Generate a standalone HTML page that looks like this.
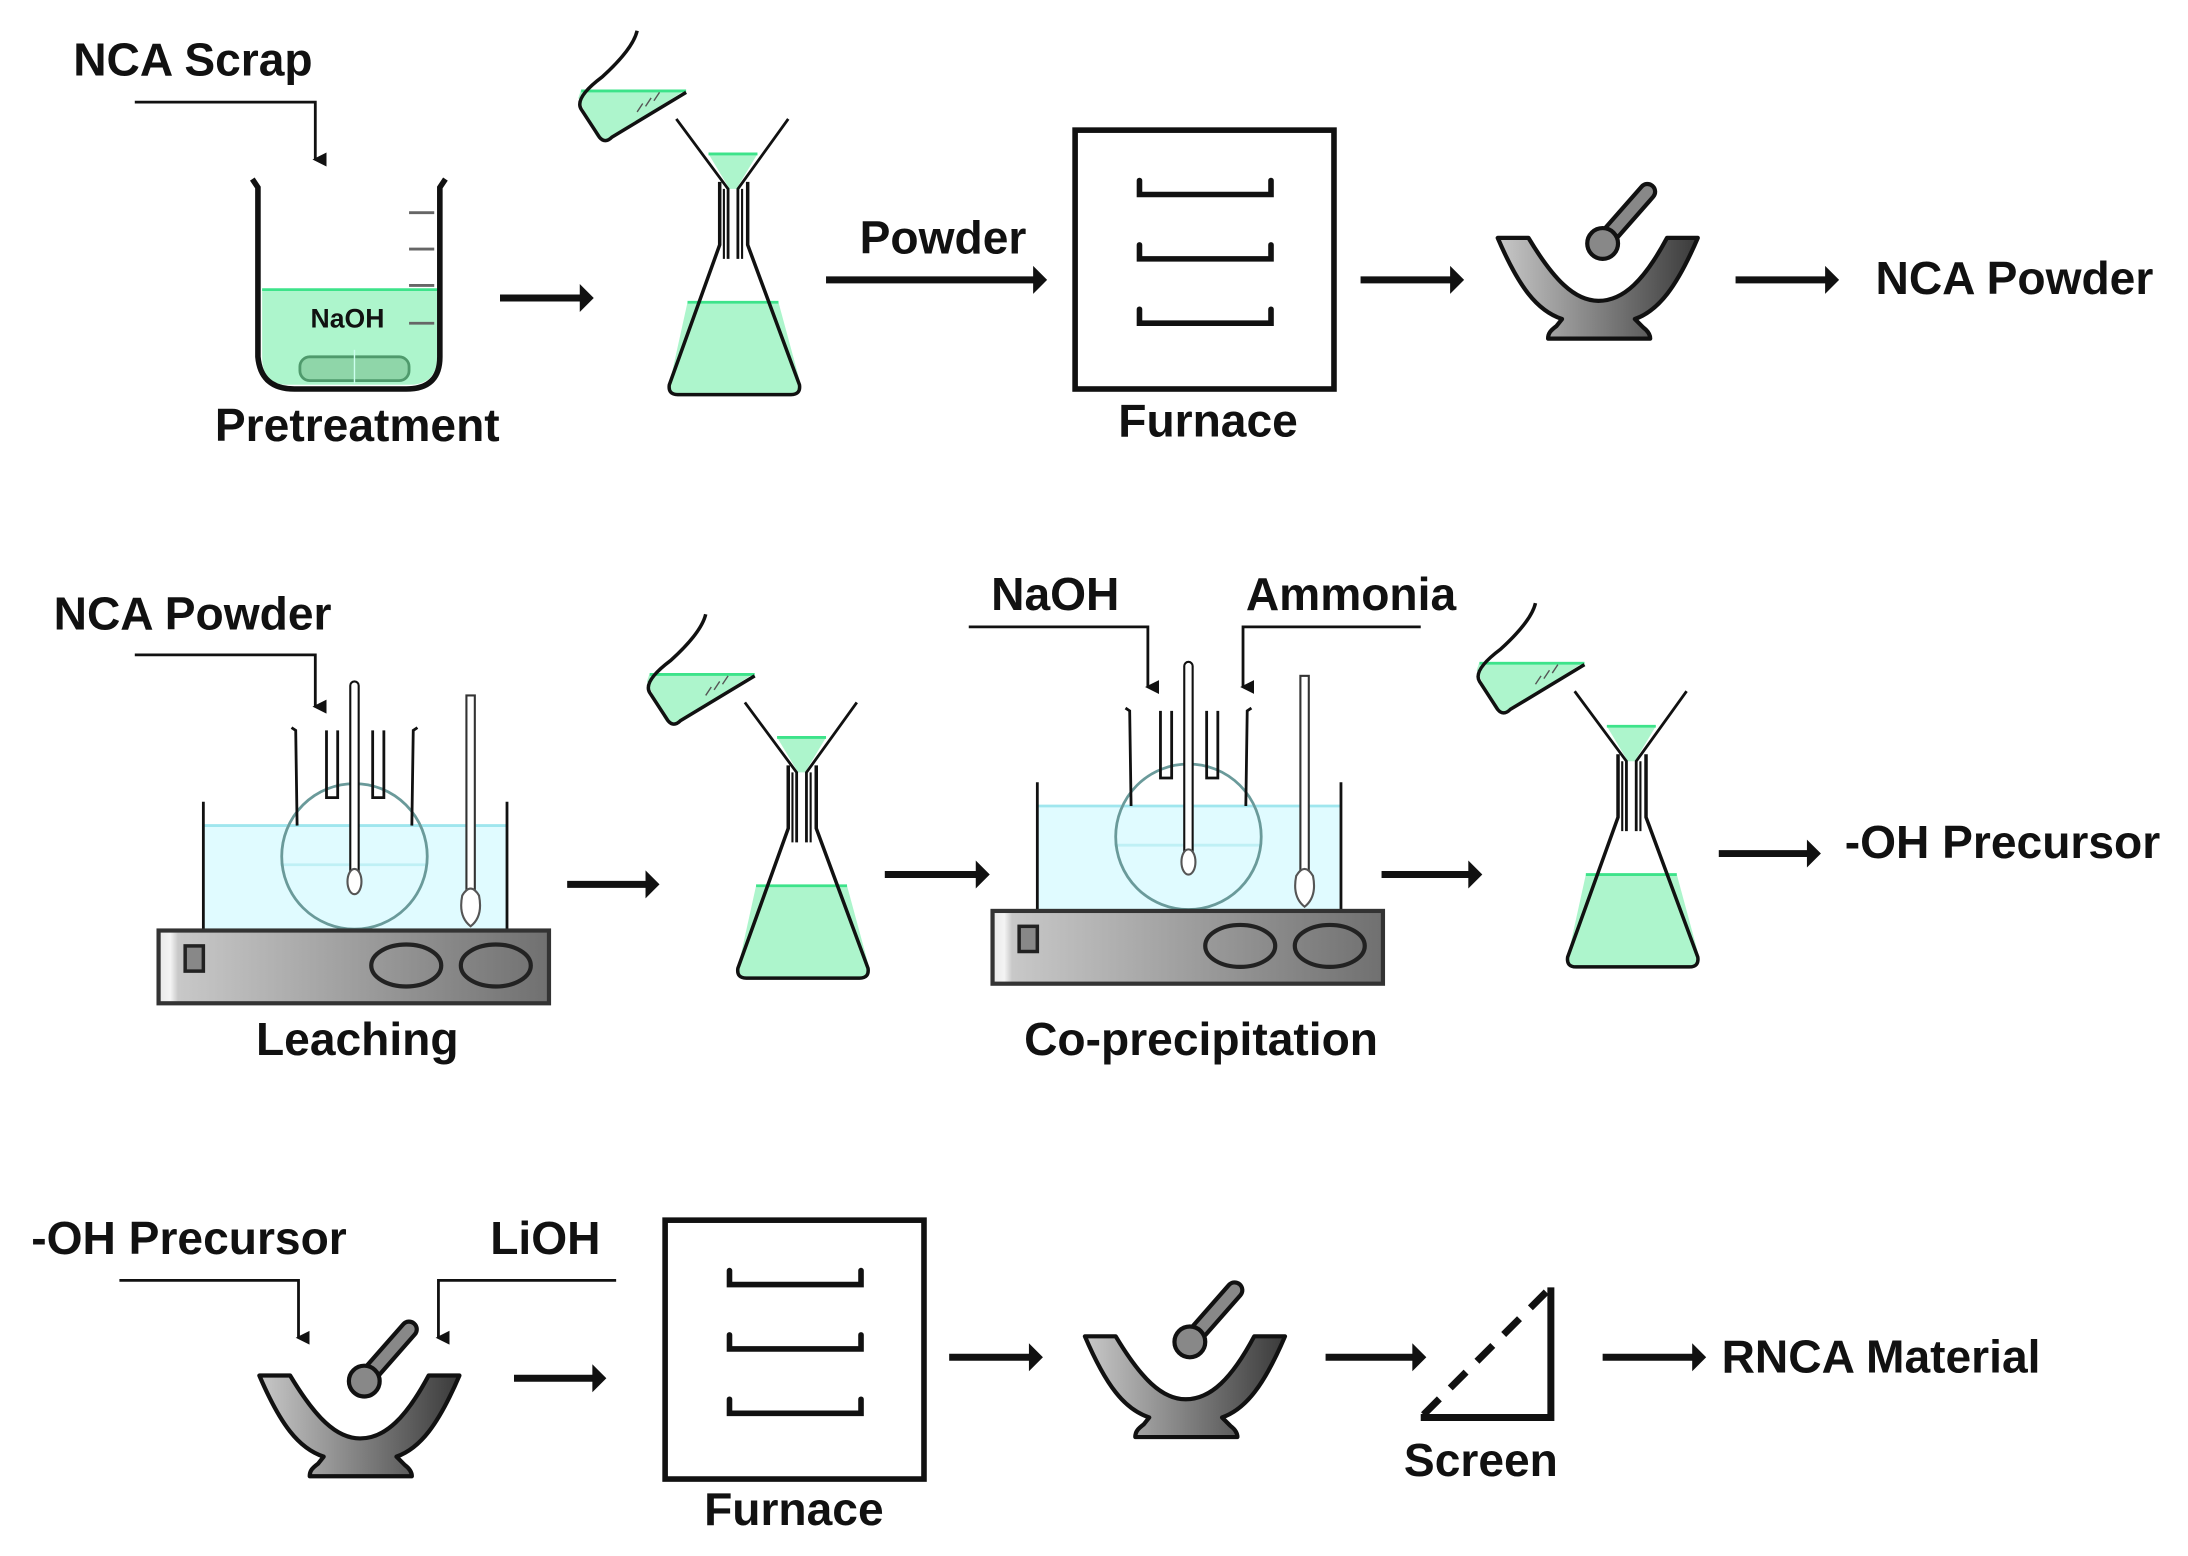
<!DOCTYPE html>
<html><head><meta charset="utf-8"><style>html,body{margin:0;padding:0;background:#fff}svg{display:block}text{font-family:"Liberation Sans",sans-serif;font-weight:bold;fill:#111}</style></head>
<body>
<svg width="2188" height="1556" viewBox="0 0 1563 1112" xmlns="http://www.w3.org/2000/svg">
<defs>
<linearGradient id="gm" x1="0" x2="1" y1="0" y2="0"><stop offset="0" stop-color="#c8c8c8"/><stop offset="1" stop-color="#3a3a3a"/></linearGradient>
<linearGradient id="gp" x1="0" x2="1" y1="0" y2="0"><stop offset="0" stop-color="#e8e8e8"/><stop offset="0.03" stop-color="#f4f4f4"/><stop offset="0.05" stop-color="#c8c8c8"/><stop offset="1" stop-color="#707070"/></linearGradient>
<marker id="ah" markerWidth="10" markerHeight="10" refX="5" refY="8" orient="auto" markerUnits="userSpaceOnUse"><path d="M0,0 L10,0 L5,10 Z" fill="#111"/></marker>
<g id="mortar">
<path d="M0,0 L22,0 C40,30 55,45 72,45 C90,45 105,30 121,0 L143,0 C128,35 115,52 98,58 L104,64 C108,67 109,70 109,72 L36,72 C36,68 38,66 42,63 L46,58 C28,52 15,35 0,0 Z" fill="url(#gm)" stroke="#111" stroke-width="3" stroke-linejoin="round"/>
<line x1="78" y1="0" x2="107" y2="-33" stroke="#111" stroke-width="14" stroke-linecap="round"/>
<line x1="78" y1="0" x2="107" y2="-33" stroke="#888" stroke-width="8" stroke-linecap="round"/>
<circle cx="75" cy="4" r="11" fill="#888" stroke="#111" stroke-width="3"/>
</g>
<g id="furnace">
<rect x="0" y="0" width="185" height="185" fill="#fff" stroke="#111" stroke-width="4"/>
<path d="M46,36 V46 H140 V36 M46,82 V92 H140 V82 M46,128 V138 H140 V128" fill="none" stroke="#111" stroke-width="4" stroke-linecap="round"/>
</g>
<g id="filt">
<path d="M415,64 L490,64 L434,100 Q428,102 425,96 L413,70 Z" fill="#adf5cc"/>
<line x1="415" y1="65" x2="490" y2="65" stroke="#3de38a" stroke-width="2"/>
<path d="M455,22 Q452,35 430,55 Q410,70 415,78 L428,98 Q432,103 437,98 L490,66" fill="none" stroke="#111" stroke-width="2.5"/>
<path d="M455,80 l4,-6 M461,76 l4,-6 M467,72 l4,-6" stroke="#555" stroke-width="1"/>
<path d="M506,110 L541,110 L526,135 L521,135 Z" fill="#adf5cc"/>
<line x1="506" y1="110" x2="541" y2="110" stroke="#3de38a" stroke-width="2"/>
<path d="M483,85 L520,135 L520,185 M563,85 L527,135 L527,185" fill="none" stroke="#111" stroke-width="2"/>
<path d="M491,216 L556,216 L572,275 Q572,282 565,282 L484,282 Q477,282 478,275 Z" fill="#adf5cc"/>
<line x1="491" y1="216" x2="556" y2="216" stroke="#3de38a" stroke-width="2"/>
<path d="M514,130 L514,175 L478,275 Q477,282 484,282 L565,282 Q572,282 571,275 L534,175 L534,130" fill="none" stroke="#111" stroke-width="2.5"/>
<path d="M517,135 V185 M530,135 V185" stroke="#111" stroke-width="1.5"/>
</g>
<g id="leach">
<rect x="145" y="590" width="217" height="75" fill="#e0fbff"/>
<line x1="145" y1="590" x2="362" y2="590" stroke="#9fe6ee" stroke-width="2"/>
<line x1="200" y1="618" x2="305" y2="618" stroke="#bff0f5" stroke-width="2"/>
<path d="M145,573 V665 M362,573 V665" stroke="#111" stroke-width="2"/>
<circle cx="253" cy="612" r="52" fill="none" stroke="#6a9a9a" stroke-width="2"/>
<path d="M208,520 L211,522 L212,590 M298,520 L295,522 L294,590" fill="none" stroke="#111" stroke-width="2"/>
<path d="M233,522 V570 H241 V522 M266,522 V570 H274 V522" fill="none" stroke="#111" stroke-width="2"/>
<rect x="250" y="487" width="6" height="140" rx="3" fill="#fff" stroke="#111" stroke-width="1.5"/>
<ellipse cx="253" cy="630" rx="5" ry="9" fill="#fff" stroke="#555" stroke-width="1.5"/>
<rect x="333" y="497" width="6" height="140" fill="#fff" stroke="#333" stroke-width="1.5"/>
<path d="M330,640 Q336,630 342,640 Q345,655 336,662 Q327,655 330,640 Z" fill="#fff" stroke="#555" stroke-width="1.5"/>
<rect x="113" y="665" width="279" height="52" fill="url(#gp)" stroke="#333" stroke-width="3"/>
<rect x="132" y="676" width="13" height="18" fill="#888" stroke="#222" stroke-width="2.5"/>
<ellipse cx="290" cy="690" rx="25" ry="15" fill="none" stroke="#222" stroke-width="3"/>
<ellipse cx="354" cy="690" rx="25" ry="15" fill="none" stroke="#222" stroke-width="3"/>
</g>
</defs>
<rect width="1563" height="1112" fill="#fff"/>
<g fill="none" stroke="#111" stroke-width="5">
<path d="M357,213 H418 M590,200 H743 M972,200 H1041 M1240,200 H1309 M405,632 H466 M632,625 H702 M987,625 H1054 M1228,610 H1296 M367,985 H428 M678,970 H740 M947,970 H1014 M1145,970 H1214"/>
</g>
<g fill="#111">
<path d="M414,203 L424,213 L414,223Z M738,190 L748,200 L738,210Z M1036,190 L1046,200 L1036,210Z M1304,190 L1314,200 L1304,210Z M461,622 L471,632 L461,642Z M697,615 L707,625 L697,635Z M1049,615 L1059,625 L1049,635Z M1291,600 L1301,610 L1291,620Z M423,975 L433,985 L423,995Z M735,960 L745,970 L735,980Z M1009,960 L1019,970 L1009,980Z M1209,960 L1219,970 L1209,980Z"/>
</g>
<g fill="none" stroke="#111" stroke-width="2" marker-end="url(#ah)">
<path d="M96,73 H225 V114"/>
<path d="M96,468 H225 V505"/>
<path d="M692,448 H820 V491"/>
<path d="M1015,448 H888 V491"/>
<path d="M85,915 H213 V956"/>
<path d="M440,915 H313 V956"/>
</g>
<path d="M187,207 H312 V255 Q312,275 292,275 H205 Q187,275 187,255 Z" fill="#adf5cc"/>
<line x1="187" y1="207" x2="312" y2="207" stroke="#3de38a" stroke-width="2"/>
<rect x="214" y="255" width="78" height="17" rx="7" fill="#8fd6a9" stroke="#4f9a6c" stroke-width="2"/>
<line x1="253" y1="250" x2="253" y2="274" stroke="#cfe" stroke-width="1"/>
<path d="M292,152 H310 M292,178 H310 M292,204 H310 M292,231 H310" stroke="#666" stroke-width="2"/>
<path d="M180,128 L184,134 L184,255 Q186,278 210,278 H290 Q314,278 314,255 L314,134 L318,128" fill="none" stroke="#111" stroke-width="4"/>
<text x="248" y="234" font-size="19" text-anchor="middle" font-weight="normal">NaOH</text>
<use href="#filt"/>
<use href="#filt" transform="translate(49,417)"/>
<use href="#filt" transform="translate(642,409)"/>
<use href="#furnace" transform="translate(768,93)"/>
<use href="#furnace" transform="translate(475,872)"/>
<use href="#mortar" transform="translate(1070,170)"/>
<use href="#mortar" transform="translate(185,983)"/>
<use href="#mortar" transform="translate(775,955)"/>
<use href="#leach"/>
<use href="#leach" transform="translate(596,-14)"/>
<path d="M1108,920 V1013 H1015" fill="none" stroke="#111" stroke-width="5"/>
<line x1="1017" y1="1011" x2="1106" y2="922" stroke="#111" stroke-width="5" stroke-dasharray="16,11"/>
<g font-size="33">
<text x="52" y="54">NCA Scrap</text>
<text x="255" y="315" text-anchor="middle">Pretreatment</text>
<text x="614" y="181">Powder</text>
<text x="863" y="312" text-anchor="middle">Furnace</text>
<text x="1340" y="210">NCA Powder</text>
<text x="38" y="450">NCA Powder</text>
<text x="708" y="436">NaOH</text>
<text x="890" y="436">Ammonia</text>
<text x="255" y="754" text-anchor="middle">Leaching</text>
<text x="858" y="754" text-anchor="middle">Co-precipitation</text>
<text x="1318" y="613">-OH Precursor</text>
<text x="22" y="896">-OH Precursor</text>
<text x="350" y="896">LiOH</text>
<text x="567" y="1090" text-anchor="middle">Furnace</text>
<text x="1058" y="1055" text-anchor="middle">Screen</text>
<text x="1230" y="981">RNCA Material</text>
</g>
</svg>
</body></html>
